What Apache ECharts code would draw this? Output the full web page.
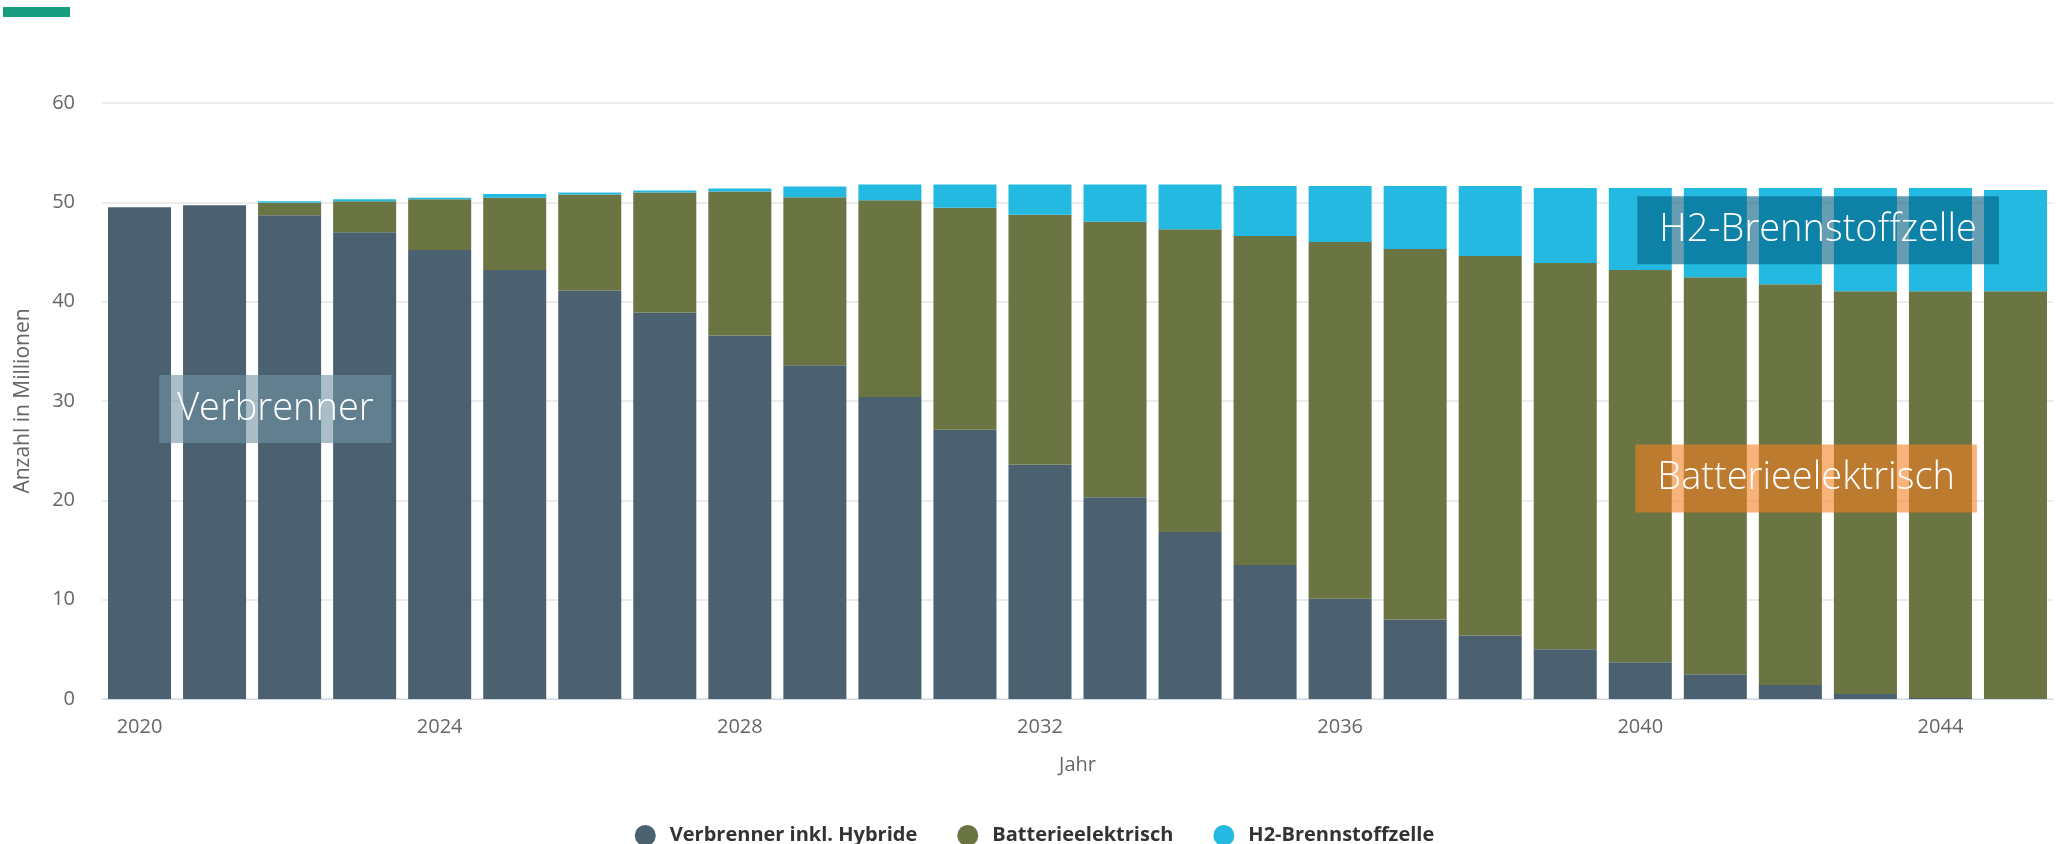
<!DOCTYPE html>
<html>
<head>
    <meta charset="UTF-8">
    <title>Pkw-Bestand nach Antrieb</title>
    <script src="https://cdn.jsdelivr.net/npm/echarts@6/dist/echarts.min.js"></script>
    <style>
        html, body { margin: 0; padding: 0; background: #fff; }
        #chart { width: 2069px; height: 844px; }
    </style>
</head>
<body>
    <div id="chart"></div>
    <script>
        var years = ['2020', '2021', '2022', '2023', '2024', '2025', '2026', '2027', '2028', '2029',
            '2030', '2031', '2032', '2033', '2034', '2035', '2036', '2037', '2038', '2039',
            '2040', '2041', '2042', '2043', '2044', '2045'];
        var verbrenner = [49.5, 49.7, 48.7, 47.0, 45.2, 43.2, 41.1, 38.9, 36.6, 33.6,
            30.4, 27.1, 23.6, 20.3, 16.8, 13.5, 10.1, 8.0, 6.4, 5.0,
            3.7, 2.5, 1.4, 0.5, 0.1, 0];
        var batterie = [0, 0, 1.25, 3.1, 5.1, 7.25, 9.7, 12.1, 14.5, 16.9,
            19.8, 22.35, 25.15, 27.75, 30.5, 33.1, 35.9, 37.3, 38.2, 38.9,
            39.5, 39.95, 40.35, 40.55, 40.95, 41.05];
        var wasserstoff = [0, 0, 0.15, 0.2, 0.17, 0.4, 0.2, 0.2, 0.3, 1.1,
            1.6, 2.35, 3.05, 3.75, 4.5, 5.05, 5.65, 6.35, 7.05, 7.55,
            8.25, 9.0, 9.7, 10.4, 10.4, 10.2];
        var seriesNames = ['Verbrenner inkl. Hybride', 'Batterieelektrisch', 'H2-Brennstoffzelle'];
        var colors = ['#4b6170', '#6b7443', '#24b9e1'];

        // label boxes: category index (may be fractional) and value of box centre
        var annotations = [
            { text: 'Verbrenner', idx: 1.81, val: 29.2, bg: 'rgba(111,146,164,0.6)', pad: 18 },
            { text: 'H2-Brennstoffzelle', idx: 22.37, val: 47.2, bg: 'rgba(0,91,127,0.6)', pad: 22 },
            { text: 'Batterieelektrisch', idx: 22.21, val: 22.2, bg: 'rgba(243,128,35,0.6)', pad: 22 }
        ];

        var font = '"Open Sans", "Noto Sans", sans-serif';
        var chart = echarts.init(document.getElementById('chart'), null, {renderer: 'canvas'});

        function barSeries(name, data, color) {
            return {
                name: name,
                type: 'bar',
                stack: 'total',
                data: data,
                barCategoryGap: '16%',
                itemStyle: { color: color },
                emphasis: { disabled: true }
            };
        }

        chart.setOption({
            animation: false,
            textStyle: { fontFamily: font },
            grid: { left: 102, right: 16, top: 103, bottom: 145 },
            legend: {
                left: 'center',
                top: 820,
                icon: 'circle',
                itemWidth: 21,
                itemHeight: 21,
                itemGap: 40,
                textStyle: { fontSize: 20, fontWeight: 'bold', color: '#333', padding: [0, 0, 0, 9] },
                data: seriesNames
            },
            xAxis: {
                type: 'category',
                data: years,
                name: 'Jahr',
                nameLocation: 'middle',
                nameGap: 56,
                nameTextStyle: { fontSize: 20, color: '#666' },
                axisLine: { lineStyle: { color: '#ccd6eb', width: 1 } },
                axisTick: { show: false },
                axisLabel: { interval: 3, fontSize: 20, color: '#666', margin: 18 }
            },
            yAxis: {
                type: 'value',
                min: 0,
                max: 60,
                interval: 10,
                name: 'Anzahl in Millionen',
                nameLocation: 'middle',
                nameGap: 68,
                nameTextStyle: { fontSize: 21, color: '#666' },
                axisLabel: { fontSize: 20, color: '#666', margin: 27 },
                splitLine: { lineStyle: { color: '#e6e6e6', width: 1.5 } }
            },
            series: [
                barSeries(seriesNames[0], verbrenner, colors[0]),
                barSeries(seriesNames[1], batterie, colors[1]),
                barSeries(seriesNames[2], wasserstoff, colors[2])
            ]
        });

        // place the label boxes through the axis scales
        function toPixel(idx, val) {
            var i0 = Math.floor(idx);
            var p0 = chart.convertToPixel({ gridIndex: 0 }, [i0, val]);
            var p1 = chart.convertToPixel({ gridIndex: 0 }, [i0 + 1, val]);
            var f = idx - i0;
            return [p0[0] + (p1[0] - p0[0]) * f, p0[1]];
        }

        var elements = [{
            type: 'rect',
            left: 3, top: 7,
            shape: { width: 67, height: 10 },
            style: { fill: '#179c7d' }
        }];
        annotations.forEach(function (a) {
            var p = toPixel(a.idx, a.val);
            elements.push({
                type: 'text',
                x: p[0], y: p[1],
                z: 100,
                style: {
                    text: a.text,
                    fill: '#fff',
                    font: '300 38px ' + font,
                    align: 'center',
                    verticalAlign: 'middle',
                    backgroundColor: a.bg,
                    padding: [10, a.pad, 10, a.pad],
                    lineHeight: 48
                }
            });
        });
        chart.setOption({ graphic: { elements: elements } });
    </script>
</body>
</html>
